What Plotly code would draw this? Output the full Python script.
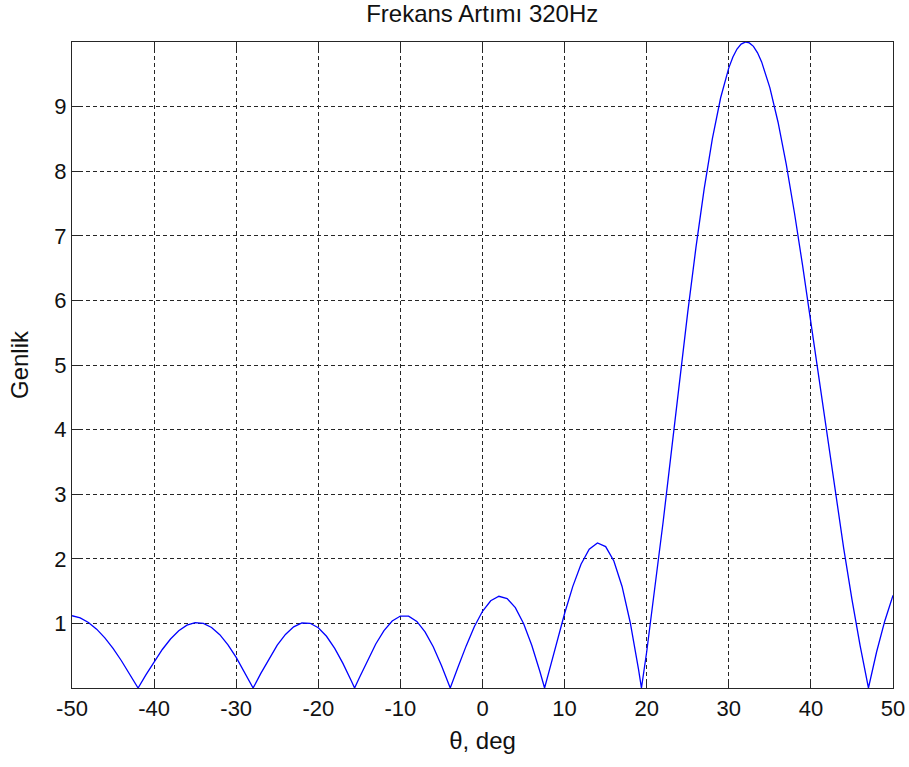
import plotly.graph_objects as go

# Angle (deg) and amplitude
theta_deg = [-50, -49, -48, -47, -46, -45, -44, -43, -42, -41.95, -41, -40, -39, -38, -37, -36,
             -35, -34, -33, -32, -31, -30, -29, -28, -27.94, -27, -26, -25, -24, -23, -22, -21,
             -20, -19, -18, -17, -16, -15.58, -15, -14, -13, -12, -11, -10, -9, -8, -7, -6,
             -5, -4, -3.93, -3, -2, -1, 0, 1, 2, 3, 4, 5, 6, 7, 7.56, 8, 9, 10, 11, 12, 13,
             14, 15, 16, 17, 18, 19, 19.36, 20, 21, 22, 23, 24, 25, 26, 27, 28, 29, 30, 30.5, 31, 31.5,
             32, 32.1, 32.5, 33, 33.5, 34, 35, 36, 37, 38, 39, 40, 41, 42, 43, 44, 45, 46, 47.01, 48, 49, 50]
genlik = [1.119, 1.084, 1.015, 0.911, 0.776, 0.613, 0.426, 0.223, 0.010, 0.0, 0.203, 0.408, 0.596, 0.758, 0.886, 0.972,
          1.011, 1.000, 0.937, 0.826, 0.669, 0.475, 0.254, 0.015, 0.0, 0.226, 0.456, 0.662, 0.829, 0.947, 1.006, 1.002,
          0.933, 0.801, 0.614, 0.381, 0.117, 0.0, 0.160, 0.433, 0.681, 0.888, 1.036, 1.114, 1.113, 1.031, 0.869, 0.638,
          0.350, 0.024, 0.0, 0.316, 0.648, 0.947, 1.187, 1.350, 1.420, 1.385, 1.244, 0.998, 0.662, 0.251, 0.0, 0.208, 0.687, 1.153, 1.573, 1.915, 2.148,
          2.246, 2.189, 1.966, 1.572, 1.010, 0.293, 0.0, 0.561, 1.525, 2.569, 3.655, 4.752, 5.818, 6.820, 7.726, 8.505, 9.133, 9.600, 9.767, 9.891, 9.967,
          9.999, 10.0, 9.986, 9.933, 9.832, 9.692, 9.294, 8.758, 8.105, 7.353, 6.530, 5.659, 4.766, 3.870, 2.995, 2.158, 1.372, 0.653, 0.0, 0.557, 1.038, 1.434]

x_ticks = [-50, -40, -30, -20, -10, 0, 10, 20, 30, 40, 50]
x_tick_text = ["-50", "-40", "-30", "-20", "-10", "0", "10", "20", "30", "40", "50"]
y_ticks = [1, 2, 3, 4, 5, 6, 7, 8, 9]
y_tick_text = ["1", "2", "3", "4", "5", "6", "7", "8", "9"]

title_text = "Frekans Artımı 320Hz"
x_label = "θ, deg"
y_label = "Genlik"

FONT = "Liberation Sans, Arial, sans-serif"

fig = go.Figure()
fig.add_trace(go.Scatter(x=theta_deg, y=genlik, mode="lines",
                         line=dict(color="#0000ff", width=1.3), showlegend=False,
                         hoverinfo="x+y"))

axis_common = dict(
    showline=True, linecolor="#262626", linewidth=1.2, mirror="ticks",
    ticks="inside", ticklen=7, tickwidth=1.2, tickcolor="#262626",
    showgrid=True, gridcolor="#262626", gridwidth=1, griddash="4px,3px",
    zeroline=False, automargin=False,
    tickfont=dict(family=FONT, size=22, color="#111111"),
)

fig.update_layout(
    width=909, height=767,
    margin=dict(l=72, r=16, t=42, b=79),
    paper_bgcolor="white", plot_bgcolor="white",
    font=dict(family=FONT, color="#111111"),
    title=dict(text=title_text, x=0.5305, xanchor="center", y=0.982, yanchor="middle",
               yref="container", font=dict(family=FONT, size=24, color="#111111")),
    xaxis=dict(range=[-50, 50], tickvals=x_ticks, ticktext=x_tick_text,
               title=dict(text=x_label, font=dict(family=FONT, size=24), standoff=12),
               **axis_common),
    yaxis=dict(range=[0, 10], tickvals=y_ticks, ticktext=y_tick_text,
               title=dict(text=y_label, font=dict(family=FONT, size=24), standoff=18),
               **axis_common),
)

fig.write_html("out.html")
